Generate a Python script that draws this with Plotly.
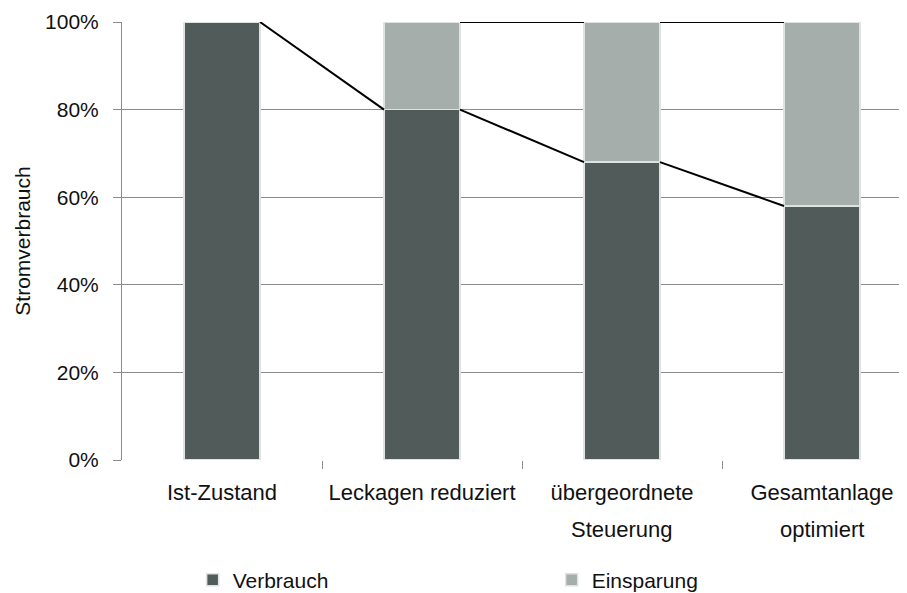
import plotly.graph_objects as go

categories = ["Ist-Zustand", "Leckagen reduziert", "übergeordnete", "Gesamtanlage"]
categories_line2 = ["", "", "Steuerung", "optimiert"]
verbrauch = [100, 80, 68, 58]
einsparung = [0, 20, 32, 42]
y_ticks = [0, 20, 40, 60, 80, 100]
y_ticklabels = ["0%", "20%", "40%", "60%", "80%", "100%"]

C_V = "#515b59"
C_E = "#a6aeac"
GRID = "#8c8c8c"
FONT = "Liberation Sans, Arial, sans-serif"
FS = 21
FSX = 22
BW = 0.38

xs = list(range(len(categories)))
fig = go.Figure()
fig.add_bar(x=xs, y=verbrauch, name="Verbrauch", marker=dict(color=C_V, line=dict(color="#dfe2e2", width=1.5)), width=BW)
fig.add_bar(x=xs, y=einsparung, name="Einsparung", marker=dict(color=C_E, line=dict(color="#dfe2e2", width=1.5)), width=BW)

# series lines (connectors between stacked tops)
tops_v = verbrauch
tops_e = [v + e for v, e in zip(verbrauch, einsparung)]
for i in range(len(xs) - 1):
    fig.add_scatter(x=[xs[i] + BW / 2, xs[i + 1] - BW / 2], y=[tops_v[i], tops_v[i + 1]],
                    mode="lines", line=dict(color="black", width=2), showlegend=False, hoverinfo="skip")
    if einsparung[i] > 0 and einsparung[i + 1] > 0:
        fig.add_scatter(x=[xs[i] + BW / 2, xs[i + 1] - BW / 2], y=[tops_e[i], tops_e[i + 1]],
                        mode="lines", line=dict(color="black", width=2), showlegend=False, hoverinfo="skip")

for i, t in enumerate(categories_line2):
    if t:
        fig.add_annotation(x=xs[i], y=-0.158, xref="x", yref="paper", text=t, showarrow=False,
                           yanchor="middle", font=dict(family=FONT, size=FSX, color="#111"))

fig.update_layout(
    barmode="stack",
    width=907, height=593,
    margin=dict(l=114, r=8, t=14, b=141, autoexpand=False),
    paper_bgcolor="white", plot_bgcolor="white",
    font=dict(family=FONT, size=FS, color="#111"),
    legend=dict(orientation="h", x=0.09, y=-0.274, xanchor="left", yanchor="middle",
                entrywidth=314, entrywidthmode="pixels", font=dict(size=FS),
                itemwidth=30, traceorder="normal"),
    xaxis=dict(range=[-0.5, 3.425], tickvals=xs, ticktext=categories, ticks="",
               showgrid=False, zeroline=False, showline=False, automargin=False,
               ticklabelstandoff=17, tickfont=dict(size=FSX),
               minor=dict(tickvals=[0.5, 1.5, 2.5], ticks="outside", ticklen=8, tickcolor=GRID, showgrid=False)),
    yaxis=dict(range=[0, 100], tickvals=y_ticks, ticktext=y_ticklabels, ticks="outside", ticklen=8,
               tickcolor=GRID, showgrid=True, gridcolor=GRID, gridwidth=1, zeroline=False,
               showline=True, linecolor=GRID, linewidth=1, ticklabelstandoff=10, automargin=False,
               title=dict(text="Stromverbrauch", standoff=8, font=dict(size=FS))),
)
fig.write_html("out.html")
